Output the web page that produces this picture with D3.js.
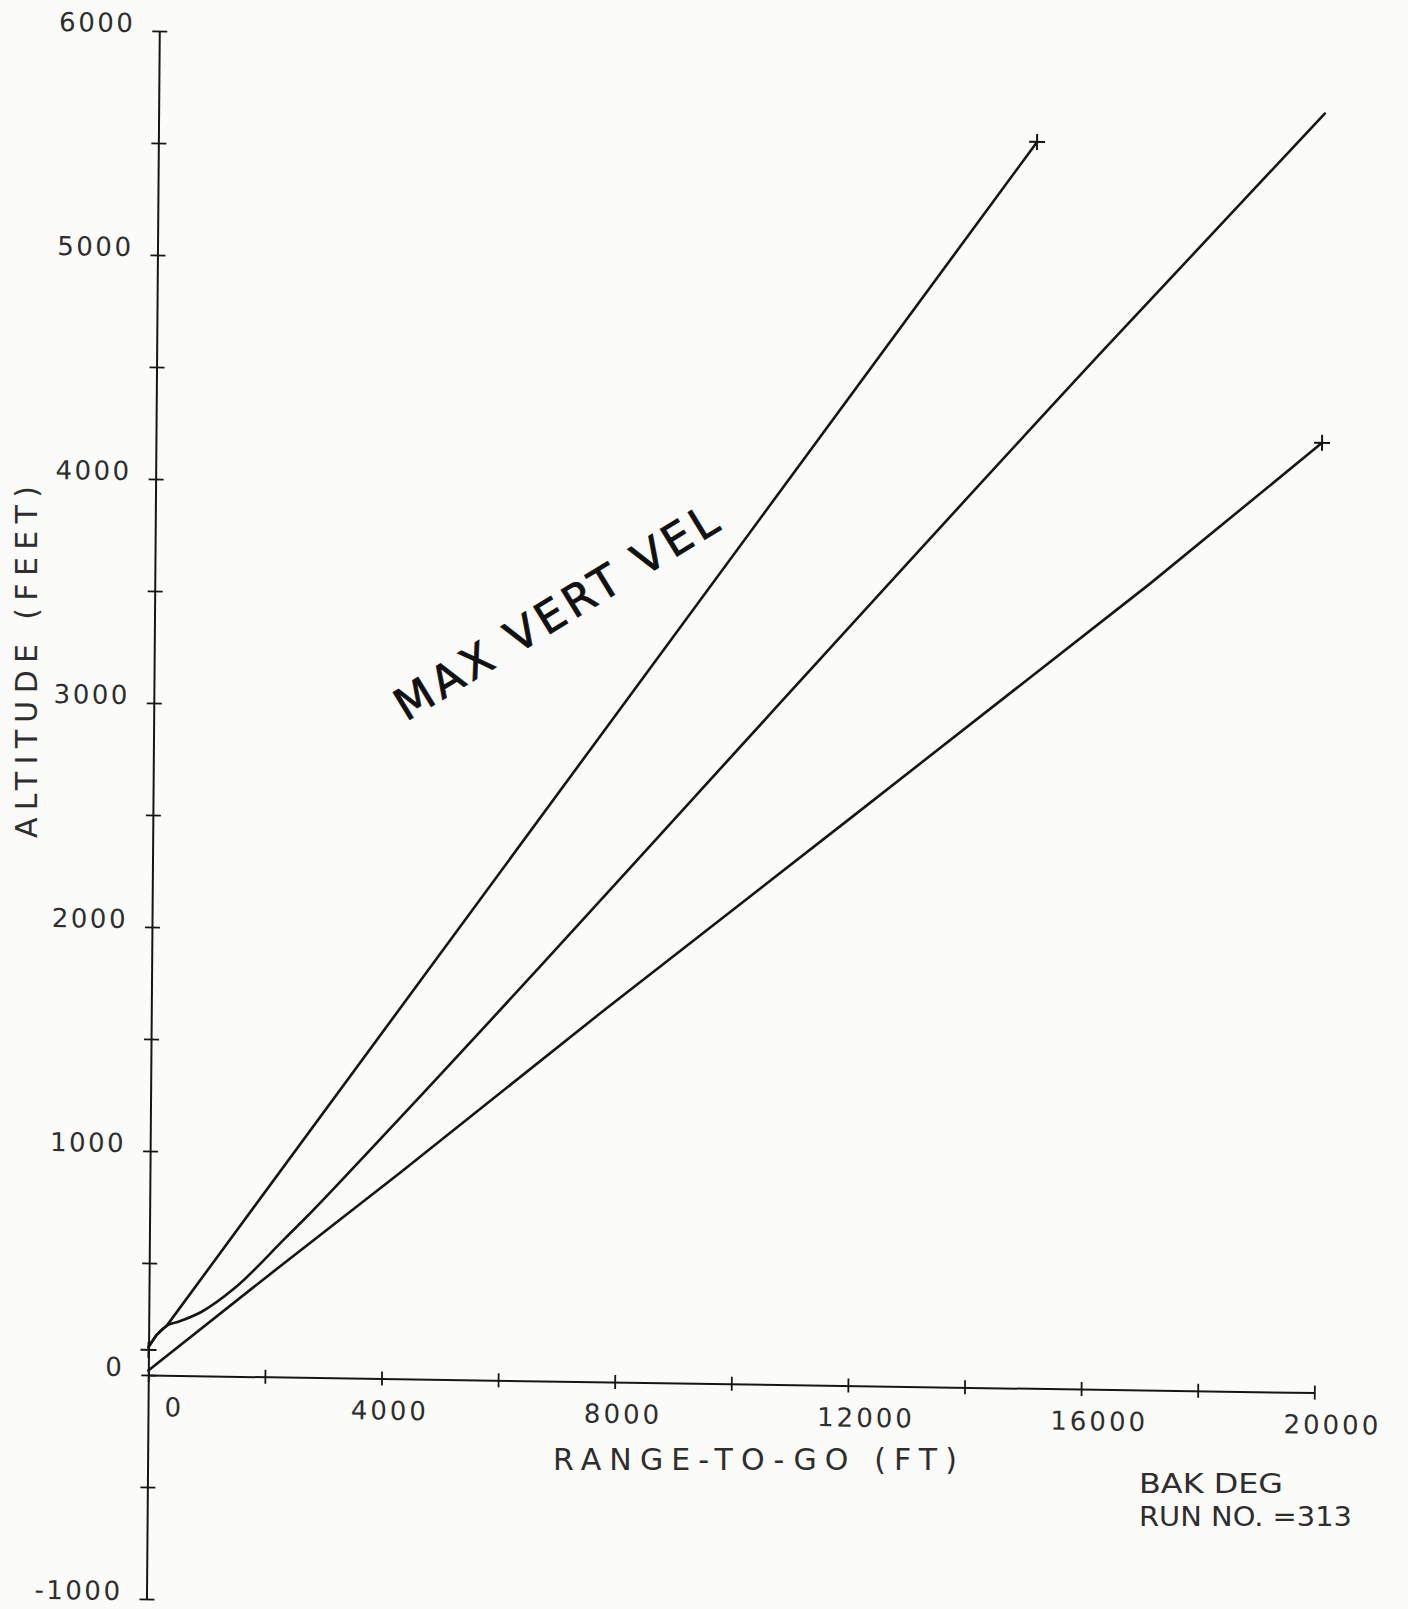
<!DOCTYPE html>
<html>
<head>
<meta charset="utf-8">
<script src="https://cdn.jsdelivr.net/npm/d3@7"></script>
<style>
  body { margin: 0; background: #fbfbf9; }
  svg { display: block; }
</style>
</head>
<body>
<svg id="chart"></svg>
<script>
const pageWidth = 1408;
const pageHeight = 1609;

// axis ticks and labels
const xTicks = d3.range(0, 20001, 2000);
const xLabels = [0, 4000, 8000, 12000, 16000, 20000];
const yTicks = d3.range(-1000, 6001, 500);
const yLabels = [-1000, 0, 1000, 2000, 3000, 4000, 5000, 6000];

// range-to-go (ft), altitude (ft)
const steepRange = [0, 136, 320, 15070];
const steepAlt = [125, 179, 225, 5564];
const midRange = [0, 136, 336, 507, 907, 1475, 2326, 2695, 3770, 6660, 9240, 16240, 20000];
const midAlt = [125, 179, 225, 240, 286, 395, 619, 717, 1019, 1849, 2603, 4640, 5710];
const lowRange = [0, 2020, 4290, 7700, 11960, 17070, 20000];
const lowAlt = [20, 447, 920, 1645, 2532, 3600, 4240];

// plotter "+" marks at curve start / end
const markRange = [0, 15070, 20000];
const markAlt = [112, 5564, 4240];

const svg = d3.select('#chart')
  .attr('width', pageWidth)
  .attr('height', pageHeight);

svg.append('rect')
  .attr('width', pageWidth)
  .attr('height', pageHeight)
  .attr('fill', '#fbfbf9');

// the scanned sheet is slightly skewed, so the plot group gets a small shear
const plot = svg.append('g')
  .attr('transform', 'matrix(1, 0.0151, -0.00817, 1, 148.3, 1375)');

const xScale = d3.scaleLinear()
  .domain([0, 20000])
  .range([0, 1166]);

const yScale = d3.scaleLinear()
  .domain([-1000, 6000])
  .range([224, -1344]);

const inkColor = '#161616';
const textColor = '#2e2e2e';
const fontFamily = '"DejaVu Sans", sans-serif';

// x axis
const xAxis = d3.axisBottom(xScale)
  .tickValues(xTicks)
  .tickSizeOuter(0)
  .tickFormat(d => xLabels.includes(d) ? d : '');

const gx = plot.append('g').call(xAxis)
  .attr('font-family', fontFamily)
  .attr('font-size', 26);
gx.select('.domain').attr('stroke', inkColor).attr('stroke-width', 2);
gx.selectAll('.tick line')
  .attr('y1', -7).attr('y2', 7)
  .attr('stroke', inkColor).attr('stroke-width', 1.8);
gx.selectAll('.tick text')
  .attr('fill', textColor)
  .attr('y', 41)
  .attr('dy', null)
  .attr('text-anchor', 'start')
  .attr('x', d => d === 0 ? 16 : -31)
  .attr('letter-spacing', 3);

// y axis
const yAxis = d3.axisLeft(yScale)
  .tickValues(yTicks)
  .tickSizeOuter(0)
  .tickFormat(d => yLabels.includes(d) ? d : '');

const gy = plot.append('g').call(yAxis)
  .attr('font-family', fontFamily)
  .attr('font-size', 26);
gy.select('.domain').attr('stroke', inkColor).attr('stroke-width', 2);
gy.selectAll('.tick line')
  .attr('x1', -7).attr('x2', 8)
  .attr('stroke', inkColor).attr('stroke-width', 1.8);
gy.selectAll('.tick text')
  .attr('fill', textColor)
  .attr('x', -24)
  .attr('dy', 1)
  .attr('text-anchor', 'end')
  .attr('letter-spacing', 2.5);

// curves
const curves = [
  {range: steepRange, alt: steepAlt, curve: d3.curveLinear},
  {range: midRange, alt: midAlt, curve: d3.curveMonotoneX},
  {range: lowRange, alt: lowAlt, curve: d3.curveLinear}
];

curves.forEach(c => {
  const pts = c.range.map((r, i) => [r, c.alt[i]]);
  const line = d3.line()
    .x(d => xScale(d[0]))
    .y(d => yScale(d[1]))
    .curve(c.curve);
  plot.append('path')
    .datum(pts)
    .attr('d', line)
    .attr('fill', 'none')
    .attr('stroke', inkColor)
    .attr('stroke-width', 2.6)
    .attr('stroke-linejoin', 'round')
    .attr('stroke-linecap', 'round');
});

// "+" marks
const armLength = 8;
plot.selectAll('.mark')
  .data(markRange.map((r, i) => [r, markAlt[i]]))
  .enter()
  .append('path')
  .attr('class', 'mark')
  .attr('d', d => {
    const px = xScale(d[0]);
    const py = yScale(d[1]);
    return `M${px - armLength},${py}H${px + armLength}M${px},${py - armLength}V${py + armLength}`;
  })
  .attr('stroke', inkColor)
  .attr('stroke-width', 2);

// axis titles
svg.append('text')
  .text('RANGE-TO-GO (FT)')
  .attr('x', 553)
  .attr('y', 1470)
  .attr('font-family', fontFamily)
  .attr('font-size', 30)
  .attr('fill', textColor)
  .attr('textLength', 404)
  .attr('lengthAdjust', 'spacing');

svg.append('text')
  .text('ALTITUDE (FEET)')
  .attr('transform', 'translate(37, 838) rotate(-90)')
  .attr('font-family', fontFamily)
  .attr('font-size', 30)
  .attr('fill', textColor)
  .attr('textLength', 352)
  .attr('lengthAdjust', 'spacing');

// run notes
svg.append('text')
  .text('BAK DEG')
  .attr('x', 1139)
  .attr('y', 1493)
  .attr('font-family', fontFamily)
  .attr('font-size', 27)
  .attr('fill', textColor)
  .attr('textLength', 144)
  .attr('lengthAdjust', 'spacingAndGlyphs');

svg.append('text')
  .text('RUN NO. =313')
  .attr('x', 1139)
  .attr('y', 1526)
  .attr('font-family', fontFamily)
  .attr('font-size', 27)
  .attr('fill', textColor)
  .attr('textLength', 213)
  .attr('lengthAdjust', 'spacingAndGlyphs');

// hand-written note
svg.append('text')
  .text('MAX VERT VEL')
  .attr('transform', 'translate(406, 722) rotate(-31.4)')
  .attr('font-family', fontFamily)
  .attr('font-size', 44)
  .attr('fill', '#111')
  .attr('stroke', '#111')
  .attr('stroke-width', 0.8)
  .attr('textLength', 370)
  .attr('lengthAdjust', 'spacing');
</script>
</body>
</html>
